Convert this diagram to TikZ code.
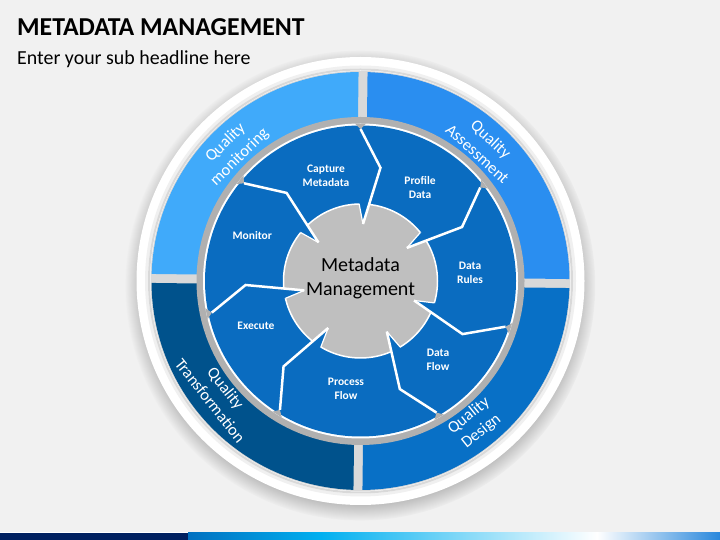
\documentclass[tikz,border=0pt]{standalone}
\usepackage{fontspec}
\setmainfont{Carlito}
\usetikzlibrary{shadows,fadings}

\definecolor{bggray}{RGB}{241,241,241}
\definecolor{qtl}{RGB}{64,170,250}
\definecolor{qtr}{RGB}{42,142,240}
\definecolor{qbl}{RGB}{0,82,140}
\definecolor{qbr}{RGB}{8,112,198}
\definecolor{segblue}{RGB}{10,108,192}
\definecolor{ringgray}{RGB}{176,176,176}
\definecolor{hubgray}{RGB}{191,191,191}
\definecolor{barnavy}{RGB}{0,32,96}
\definecolor{barblue}{RGB}{0,112,192}
\definecolor{barcyan}{RGB}{0,176,240}
\definecolor{barend}{RGB}{40,135,220}

\tikzset{
  sepline/.style={white, line width=2.5pt, line join=miter},
  notchedge/.style={white, line width=1.2pt},
  seglabel/.style={text=white, font=\bfseries\fontsize{11.5}{14}\selectfont, align=center},
  qlabel/.style={text=white, font=\fontsize{16.5}{20}\selectfont, align=center},
}

\begin{document}
\begin{tikzpicture}[x=1pt,y=1pt]
	\useasboundingbox (0,0) rectangle (720,540);
\fill[bggray] (0,0) rectangle (720,540); % page
\fill[white] (0,7) rectangle (720,8); % bar.top
\fill[barnavy] (0,0) rectangle (188,7); % bar.0
\shade[left color=barblue, right color=barcyan] (188,0) rectangle (321,7); % bar.1
\shade[left color=barcyan, right color=white] (321,0) rectangle (597,7); % bar.2
\shade[left color=white, right color=barend] (597,0) rectangle (720,7); % bar.3
\node[anchor=base west, inner sep=0, font=\bfseries\fontsize{25.8}{30}\selectfont] (title) at (17,504) {METADATA MANAGEMENT};
\node[anchor=base west, inner sep=0, font=\fontsize{19.9}{24}\selectfont] (subtitle) at (17,475) {Enter your sub headline here};
\begin{scope}[shift={(360.5,259)}]
\fill[white, circular drop shadow={shadow scale=1.05, shadow xshift=0pt, shadow yshift=-4pt, opacity=.85, fill=black!55}] (0,0) circle (224); % plate
\draw[gray!12, line width=3pt] (0,0) circle (214); % plate.inner
\draw[gray!30, line width=2pt] (0,0) circle (211.5);
\begin{scope}[rotate=-0.7]
\fill[gray!30] (0,0) circle (210); % gaps
\begin{scope} \clip (-215,4.5) rectangle (-4.5,215); \fill[qtl] (0,0) circle (209); \end{scope} % Quadrant.TL
\begin{scope} \clip (4.5,4.5) rectangle (215,215); \fill[qtr] (0,0) circle (209); \end{scope} % Quadrant.TR
\begin{scope} \clip (-215,-4.5) rectangle (-4.5,-215); \fill[qbl] (0,0) circle (209); \end{scope} % Quadrant.BL
\begin{scope} \clip (4.5,-4.5) rectangle (215,-215); \fill[qbr] (0,0) circle (209); \end{scope} % Quadrant.BR
\end{scope}
\fill[ringgray] (0,0) circle (164); % ring
\fill[white] (0,0) circle (157.5);
\fill[segblue] (0,0) circle (155.5); % wheel
\filldraw[fill=hubgray, draw=white, line width=1.5pt] (0,0) circle (77); % hub
\fill[ringgray] (138:157.5) -- (140:152) -- (142:157.5) -- cycle; % Sep.1
\fill[segblue] (137.5:57) -- (141:77) -- (130:115) -- cycle;
\draw[notchedge] (141:77) -- (137.5:57);
\draw[sepline] (140:152) -- (130:115) -- (137.5:57);
\fill[ringgray] (88:157.5) -- (90:152) -- (92:157.5) -- cycle; % Sep.2
\fill[segblue] (87.5:57) -- (91:77) -- (80:115) -- cycle;
\draw[notchedge] (91:77) -- (87.5:57);
\draw[sepline] (90:152) -- (80:115) -- (87.5:57);
\fill[ringgray] (36:157.5) -- (38:152) -- (40:157.5) -- cycle; % Sep.3
\fill[segblue] (35.5:57) -- (39:77) -- (28:115) -- cycle;
\draw[notchedge] (39:77) -- (35.5:57);
\draw[sepline] (38:152) -- (28:115) -- (35.5:57);
\fill[ringgray] (-19.5:157.5) -- (-17.5:152) -- (-15.5:157.5) -- cycle; % Sep.4
\fill[segblue] (-20:57) -- (-16.5:77) -- (-27.5:115) -- cycle;
\draw[notchedge] (-16.5:77) -- (-20:57);
\draw[sepline] (-17.5:152) -- (-27.5:115) -- (-20:57);
\fill[ringgray] (-62:157.5) -- (-60:152) -- (-58:157.5) -- cycle; % Sep.5
\fill[segblue] (-62.5:57) -- (-59:77) -- (-70:115) -- cycle;
\draw[notchedge] (-59:77) -- (-62.5:57);
\draw[sepline] (-60:152) -- (-70:115) -- (-62.5:57);
\fill[ringgray] (-124:157.5) -- (-122:152) -- (-120:157.5) -- cycle; % Sep.6
\fill[segblue] (-124.5:57) -- (-121:77) -- (-132:115) -- cycle;
\draw[notchedge] (-121:77) -- (-124.5:57);
\draw[sepline] (-122:152) -- (-132:115) -- (-124.5:57);
\fill[ringgray] (-170:157.5) -- (-168:152) -- (-166:157.5) -- cycle; % Sep.7
\fill[segblue] (-170.5:57) -- (-167:77) -- (-178:115) -- cycle;
\draw[notchedge] (-167:77) -- (-170.5:57);
\draw[sepline] (-168:152) -- (-178:115) -- (-170.5:57);
\node[font=\fontsize{20}{24}\selectfont, align=center] (hub) at (0,3) {Metadata\\Management};
\node[seglabel] (capture) at (-34.5,105) {Capture\\Metadata};
\node[seglabel] (profile) at (59.5,93) {Profile\\Data};
\node[seglabel] (rules) at (109.5,8) {Data\\Rules};
\node[seglabel] (flow) at (77.5,-79) {Data\\Flow};
\node[seglabel] (process) at (-14.5,-108) {Process\\Flow};
\node[seglabel] (execute) at (-104.5,-44.7) {Execute};
\node[seglabel] (monitor) at (-108.2,45) {Monitor};
\node[qlabel, rotate=44.3] (qmon) at (134.3:183) {Quality\\monitoring};
\node[qlabel, rotate=-42.6] (qass) at (47.4:183) {Quality\\Assessment};
\node[qlabel, rotate=38.8] (qdes) at (-51.2:183) {Quality\\Design};
\node[qlabel, rotate=-51.5] (qtra) at (-141.5:182) {Quality\\Transformation};
\end{scope}
	\end{tikzpicture}
\end{document}
